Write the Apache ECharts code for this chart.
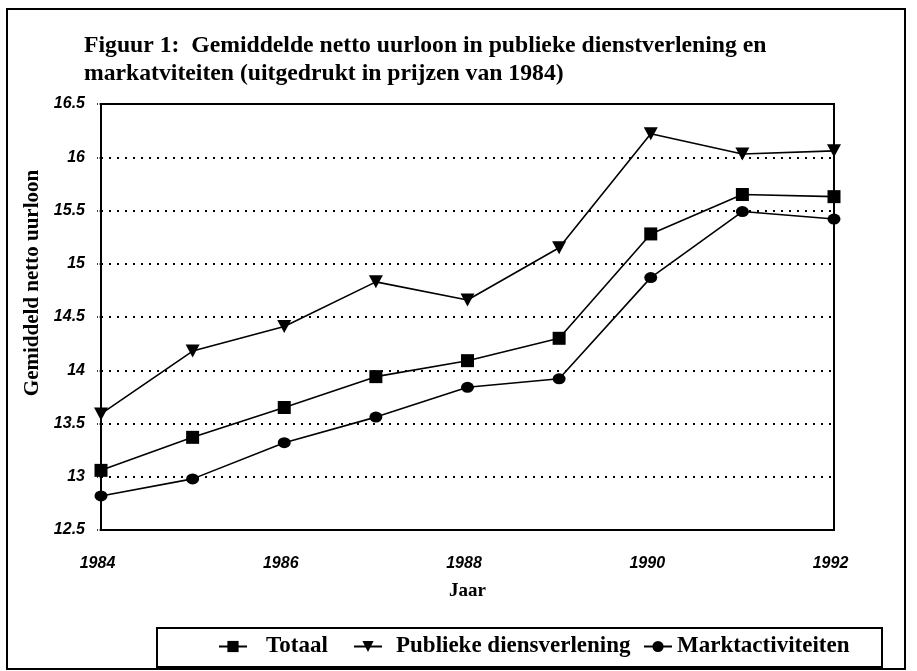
<!DOCTYPE html>
<html>
<head>
<meta charset="utf-8">
<script src="https://cdn.jsdelivr.net/npm/echarts@6/dist/echarts.min.js"></script>
<style>
html,body{margin:0;padding:0;background:#fff;}
#chart{width:917px;height:671px;}
</style>
</head>
<body>
<div id="chart"></div>
<script>
var years = ['1984','1985','1986','1987','1988','1989','1990','1991','1992'];
var totaal = [13.06, 13.37, 13.65, 13.94, 14.09, 14.30, 15.28, 15.65, 15.63];
var publiek = [13.59, 14.18, 14.41, 14.83, 14.66, 15.15, 16.22, 16.03, 16.06];
var markt = [12.82, 12.98, 13.32, 13.56, 13.84, 13.92, 14.87, 15.49, 15.42];
var titleText = 'Figuur 1:  Gemiddelde netto uurloon in publieke dienstverlening en\nmarkatviteiten (uitgedrukt in prijzen van 1984)';
var yName = 'Gemiddeld netto uurloon';
var xName = 'Jaar';
var seriesNames = ['Totaal', 'Publieke diensverlening', 'Marktactiviteiten'];

var serif = '"Liberation Serif", "DejaVu Serif", serif';
var sans = '"Liberation Sans", Arial, sans-serif';

var chart = echarts.init(document.getElementById('chart'), null, {renderer:'canvas'});
function mkSeries(name, data, symbol, size, rot) {
  return {
    name: name, type: 'line', data: data, symbol: symbol, symbolSize: size,
    symbolRotate: rot || 0,
    showAllSymbol: true,
    lineStyle: {color: '#000', width: 1.6},
    itemStyle: {color: '#000', borderWidth: 0},
    emphasis: {disabled: true},
    animation: false
  };
}
function mkLegend(name, left, pad) {
  return {
    data: [name], left: left, top: 635, orient: 'horizontal',
    padding: 0, itemWidth: 28, itemHeight: 14,
    textStyle: {fontFamily: serif, fontSize: 23, fontWeight: 'bold', color: '#000', padding: [0, 0, 0, pad]},
    selectedMode: false
  };
}
chart.setOption({
  animation: false,
  backgroundColor: '#fff',
  title: {
    text: titleText, left: 79, top: 27,
    textStyle: {fontFamily: serif, fontSize: 23.7, fontWeight: 'bold', color: '#000', lineHeight: 28}
  },
  grid: {left: 101, right: 83, top: 104, bottom: 141, show: true, borderColor: '#000', borderWidth: 2, backgroundColor: 'transparent'},
  xAxis: {
    type: 'category', data: years, boundaryGap: false,
    name: xName, nameLocation: 'middle', nameGap: 52,
    nameTextStyle: {fontFamily: serif, fontSize: 19, fontWeight: 'bold', color: '#000'},
    axisLine: {show: true, lineStyle: {color: '#000', width: 2}},
    axisTick: {show: false},
    axisLabel: {interval: 1, margin: 26, fontFamily: sans, fontSize: 16, fontWeight: 'bold', fontStyle: 'italic', color: '#000', padding: [0, 7, 0, 0]},
    splitLine: {show: false}
  },
  yAxis: {
    type: 'value', min: 12.5, max: 16.5, interval: 0.5,
    axisLine: {show: true, lineStyle: {color: '#000', width: 2}},
    axisTick: {show: true, length: 4, lineStyle: {color: '#000', width: 1.5, type: 'dotted'}},
    axisLabel: {margin: 16, fontFamily: sans, fontSize: 16, fontWeight: 'bold', fontStyle: 'italic', color: '#000'},
    splitLine: {show: true, lineStyle: {color: '#000', width: 2, type: [2, 6]}}
  },
  legend: [
    mkLegend(seriesNames[0], 218, 14),
    mkLegend(seriesNames[1], 353, 9),
    mkLegend(seriesNames[2], 643, 0)
  ],
  series: [
    mkSeries(seriesNames[0], totaal, 'rect', 13),
    mkSeries(seriesNames[1], publiek, 'triangle', [14, 13], 180),
    mkSeries(seriesNames[2], markt, 'circle', [13, 11])
  ],
  graphic: [
    {type: 'rect', shape: {x: 7, y: 9, width: 898, height: 660}, style: {fill: 'none', stroke: '#000', lineWidth: 2}, z: -1},
    {type: 'rect', shape: {x: 157, y: 628, width: 725, height: 39}, style: {fill: '#fff', stroke: '#000', lineWidth: 2}, z: 0},
    {type: 'text', x: 33, y: 283, rotation: Math.PI / 2, style: {text: yName, fontFamily: serif, fontSize: 21, fontWeight: 'bold', fill: '#000', align: 'center', verticalAlign: 'middle'}}
  ]
});
</script>
</body>
</html>
